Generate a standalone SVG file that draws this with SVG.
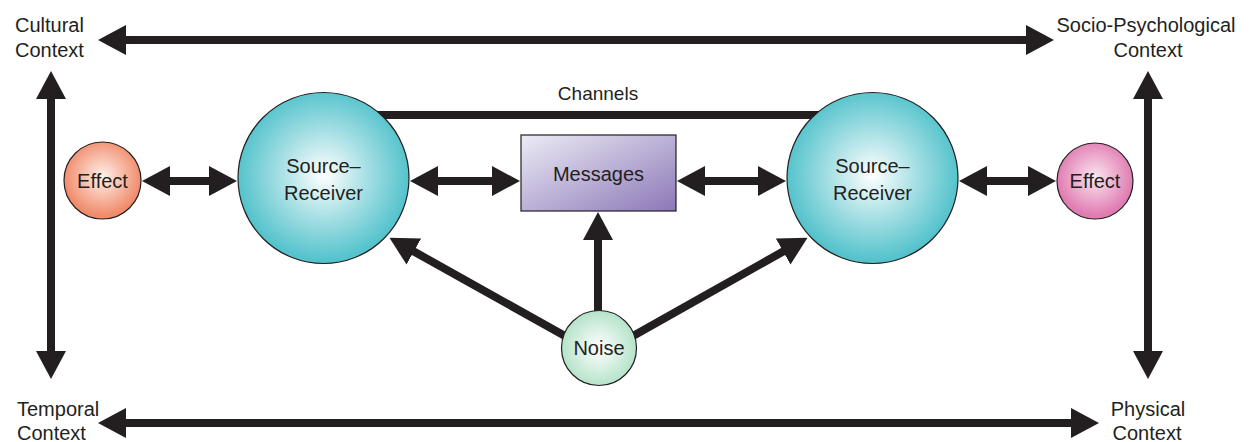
<svg xmlns="http://www.w3.org/2000/svg" width="1250" height="442" viewBox="0 0 1250 442">
  <defs>
    <style>
      text { font-family: "Liberation Sans", Arial, sans-serif; font-size: 20px; fill: #231f20; }
      .ctx { text-anchor: start; }
      .mid { text-anchor: middle; }
      .shaft { stroke: #231f20; stroke-width: 8; fill: none; }
      .both { marker-start: url(#head); marker-end: url(#head); }
      .one { marker-end: url(#head); }
      .outline { stroke: #231f20; stroke-width: 1.2; }
    </style>
    <marker id="head" viewBox="0 0 28 30" refX="1" refY="15" markerWidth="28" markerHeight="30" markerUnits="userSpaceOnUse" orient="auto-start-reverse">
      <path d="M0,0 L28,15 L0,30 Z" fill="#231f20"/>
    </marker>
    <radialGradient id="gTeal" cx="0.5" cy="0.48" r="0.5">
      <stop offset="0" stop-color="#ffffff"/>
      <stop offset="0.55" stop-color="#9fdde2"/>
      <stop offset="1" stop-color="#55c3cc"/>
    </radialGradient>
    <radialGradient id="gSalmon" cx="0.5" cy="0.45" r="0.5">
      <stop offset="0" stop-color="#fff1ea"/>
      <stop offset="1" stop-color="#f08c6c"/>
    </radialGradient>
    <radialGradient id="gPink" cx="0.5" cy="0.45" r="0.5">
      <stop offset="0" stop-color="#fbe6f0"/>
      <stop offset="1" stop-color="#e07cb2"/>
    </radialGradient>
    <radialGradient id="gMint" cx="0.5" cy="0.5" r="0.5">
      <stop offset="0" stop-color="#ffffff"/>
      <stop offset="1" stop-color="#b5e3c9"/>
    </radialGradient>
    <linearGradient id="gViolet" x1="0" y1="0" x2="1" y2="1">
      <stop offset="0" stop-color="#ecebf6"/>
      <stop offset="1" stop-color="#8c78b6"/>
    </linearGradient>
  </defs>

  <!-- connectors -->
  <g id="connectors">
    <!-- context frame -->
    <line class="shaft both" x1="125" y1="40" x2="1027" y2="40"/>
    <line class="shaft both" x1="125" y1="423" x2="1072" y2="423"/>
    <line class="shaft both" x1="51" y1="98" x2="51" y2="352"/>
    <line class="shaft both" x1="1148" y1="98" x2="1148" y2="352"/>
    <!-- channels link -->
    <line class="shaft" x1="330" y1="115" x2="870" y2="115"/>
    <!-- exchange arrows -->
    <line class="shaft both" x1="169" y1="181" x2="210" y2="181"/>
    <line class="shaft both" x1="437" y1="181" x2="493" y2="181"/>
    <line class="shaft both" x1="704" y1="181" x2="759" y2="181"/>
    <line class="shaft both" x1="986" y1="181" x2="1029" y2="181"/>
    <!-- noise arrows -->
    <line class="shaft one" x1="598" y1="315" x2="598" y2="239"/>
    <line class="shaft one" x1="565" y1="336" x2="413" y2="251"/>
    <line class="shaft one" x1="633" y1="336" x2="784" y2="251"/>
  </g>

  <!-- context labels -->
  <g id="cultural">
    <text class="ctx" x="15" y="32">Cultural</text>
    <text class="ctx" x="15" y="57">Context</text>
  </g>
  <g id="socio-psychological">
    <text class="mid" x="1146" y="32">Socio-Psychological</text>
    <text class="mid" x="1148" y="57">Context</text>
  </g>
  <g id="temporal">
    <text class="ctx" x="17" y="416">Temporal</text>
    <text class="ctx" x="17" y="440">Context</text>
  </g>
  <g id="physical">
    <text class="mid" x="1148" y="416">Physical</text>
    <text class="mid" x="1147" y="440">Context</text>
  </g>

  <g id="channels">
    <text class="mid" x="598" y="100" style="font-size:19px">Channels</text>
  </g>

  <g id="effect-left">
    <circle class="outline" cx="102.5" cy="180.5" r="38.5" fill="url(#gSalmon)"/>
    <text class="mid" x="102.5" y="188">Effect</text>
  </g>

  <g id="source-receiver-left">
    <circle class="outline" cx="323.5" cy="178" r="85.5" fill="url(#gTeal)"/>
    <text class="mid" x="323.5" y="173">Source–</text>
    <text class="mid" x="323.5" y="200">Receiver</text>
  </g>

  <g id="messages">
    <rect class="outline" x="521" y="135" width="155" height="76" fill="url(#gViolet)"/>
    <text class="mid" x="598.5" y="181">Messages</text>
  </g>

  <g id="source-receiver-right">
    <circle class="outline" cx="872.5" cy="178" r="85.5" fill="url(#gTeal)"/>
    <text class="mid" x="872.5" y="173">Source–</text>
    <text class="mid" x="872.5" y="200">Receiver</text>
  </g>

  <g id="effect-right">
    <circle class="outline" cx="1095" cy="181" r="38" fill="url(#gPink)"/>
    <text class="mid" x="1095" y="188">Effect</text>
  </g>

  <g id="noise">
    <circle class="outline" cx="599" cy="348" r="37.5" fill="url(#gMint)"/>
    <text class="mid" x="599" y="355">Noise</text>
  </g>
</svg>
